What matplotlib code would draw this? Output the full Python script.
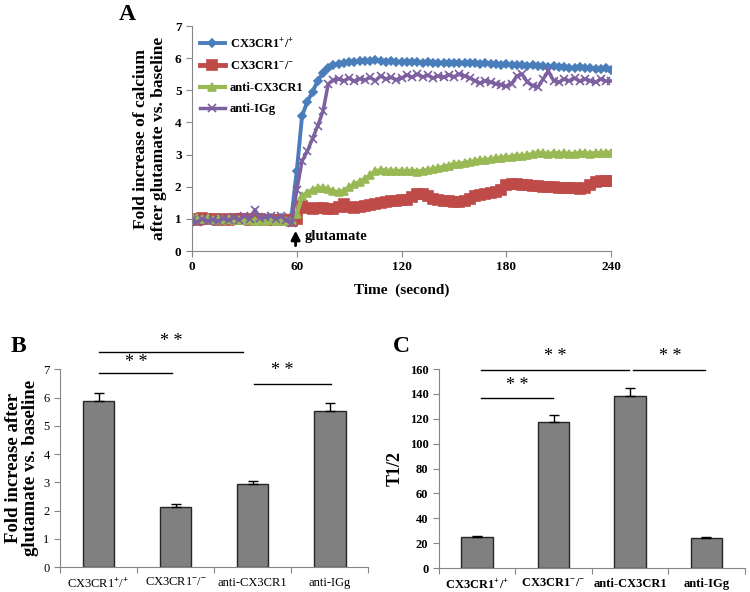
import matplotlib
matplotlib.use("Agg")
import matplotlib.pyplot as plt
import numpy as np

plt.rcParams['font.family'] = ['Liberation Serif', 'DejaVu Serif']
plt.rcParams['mathtext.fontset'] = 'custom'
plt.rcParams['mathtext.rm'] = 'Liberation Serif:bold'
plt.rcParams['mathtext.bf'] = 'Liberation Serif:bold'

# ---- panel A: time course (sampled every 3 s) ----
time = np.arange(0, 241, 3)

wt = [0.97, 0.95, 0.93, 0.96, 0.94, 0.97, 0.95, 0.98, 0.96, 0.99,
      0.97, 1.00, 0.98, 1.01, 0.99, 1.02, 1.00, 1.03, 1.04, 1.10,
      2.50, 4.20, 4.65, 4.95, 5.30, 5.55, 5.70, 5.78, 5.83, 5.86,
      5.87, 5.88, 5.90, 5.91, 5.92, 5.93, 5.90, 5.89, 5.90, 5.88,
      5.89, 5.88, 5.87, 5.88, 5.86, 5.87, 5.85, 5.86, 5.84, 5.85,
      5.86, 5.84, 5.85, 5.84, 5.86, 5.83, 5.84, 5.82, 5.83, 5.80,
      5.81, 5.79, 5.80, 5.78, 5.77, 5.78, 5.76, 5.75, 5.74, 5.76,
      5.73, 5.72, 5.71, 5.70, 5.72, 5.68, 5.69, 5.67, 5.66, 5.68,
      5.62]

ko = [1.00, 0.98, 1.02, 0.99, 1.01, 0.97, 1.00, 0.98, 1.01, 0.99,
      1.00, 0.98, 1.01, 0.99, 0.97, 0.98, 0.96, 0.97, 0.95, 0.94,
      1.00, 1.40, 1.35, 1.30, 1.33, 1.35, 1.30, 1.32, 1.36, 1.45,
      1.38, 1.35, 1.37, 1.40, 1.42, 1.45, 1.48, 1.52, 1.55, 1.56,
      1.58, 1.60, 1.68, 1.76, 1.78, 1.72, 1.62, 1.58, 1.57, 1.56,
      1.53, 1.52, 1.55, 1.62, 1.70, 1.75, 1.78, 1.82, 1.85, 1.90,
      2.05, 2.08, 2.07, 2.06, 2.04, 2.03, 2.02, 2.00, 2.00, 1.98,
      1.97, 1.96, 1.97, 1.95, 1.94, 1.96, 2.05, 2.15, 2.17, 2.18,
      2.19]

anti_cx = [1.05, 1.03, 1.00, 1.02, 0.98, 1.00, 0.97, 0.99, 0.96, 0.98,
           0.95, 0.97, 0.94, 0.96, 0.93, 0.95, 0.92, 0.94, 0.93, 0.95,
           1.15, 1.70, 1.82, 1.90, 1.95, 1.96, 1.92, 1.86, 1.83, 1.88,
           1.98, 2.08, 2.15, 2.25, 2.35, 2.48, 2.52, 2.50, 2.50, 2.49,
           2.50, 2.48, 2.50, 2.47, 2.50, 2.52, 2.55, 2.58, 2.62, 2.66,
           2.70, 2.72, 2.74, 2.77, 2.80, 2.82, 2.84, 2.86, 2.88, 2.90,
           2.92, 2.93, 2.97, 2.95, 2.98, 3.02, 3.05, 3.04, 3.02, 3.05,
           3.03, 3.04, 3.02, 3.03, 3.05, 3.04, 3.03, 3.05, 3.04, 3.06,
           3.06]

anti_igg = [0.95, 0.90, 1.00, 0.93, 0.98, 0.92, 1.02, 0.95, 1.05, 0.97,
            1.10, 1.00, 1.28, 1.02, 1.05, 1.10, 1.00, 1.08, 0.95, 0.88,
            1.90, 2.80, 3.10, 3.50, 3.90, 4.35, 5.20, 5.32, 5.35, 5.30,
            5.38, 5.28, 5.36, 5.32, 5.40, 5.30, 5.45, 5.35, 5.40, 5.33,
            5.38, 5.48, 5.40, 5.50, 5.42, 5.47, 5.38, 5.45, 5.40, 5.48,
            5.42, 5.50, 5.45, 5.38, 5.30, 5.22, 5.30, 5.25, 5.20, 5.18,
            5.12, 5.20, 5.45, 5.50, 5.25, 5.15, 5.10, 5.35, 5.60, 5.30,
            5.25, 5.35, 5.30, 5.38, 5.28, 5.35, 5.30, 5.25, 5.35, 5.28,
            5.30]

# ---- panels B and C ----
groups = [r'CX3CR1$^{+}$/$^{+}$', r'CX3CR1$^{-}$/$^{-}$', 'anti-CX3CR1', 'anti-IGg']
fold = [5.87, 2.13, 2.93, 5.54]
fold_err = [0.31, 0.11, 0.13, 0.28]
t_half = [25.0, 117.3, 138.4, 24.2]
t_half_err = [0.8, 5.4, 6.2, 0.8]

gray = '#868686'

fig = plt.figure(figsize=(7.5, 5.92), dpi=100)

# Panel A
axA = fig.add_axes([0.256, 0.576, 0.559, 0.380])
series = [
    (wt, '#4A7EBB', 'D', 4.5, 2.8, groups[0]),
    (ko, '#BE4B48', 's', 6.5, 3.5, groups[1]),
    (anti_cx, '#98B954', '^', 6.0, 3.0, groups[2]),
    (anti_igg, '#7D60A0', 'x', 6.0, 2.5, groups[3]),
]
for vals, col, mk, ms, lw, lab in series:
    axA.plot(time, vals, color=col, marker=mk, markersize=ms, lw=lw,
             markeredgewidth=1.2, label=lab)
axA.set_xlim(0, 240)
axA.set_ylim(0, 7)
axA.set_xticks([0, 60, 120, 180, 240])
axA.set_yticks(range(0, 8))
for s in ['top', 'right']:
    axA.spines[s].set_visible(False)
for s in ['left', 'bottom']:
    axA.spines[s].set_color(gray)
axA.tick_params(colors=gray, labelcolor='black', labelsize=9.5, length=4)
for lbl in axA.get_xticklabels() + axA.get_yticklabels():
    lbl.set_fontweight('bold')
axA.set_xlabel('Time  (second)', fontsize=11, fontweight='bold', labelpad=7)
axA.set_ylabel('Fold increase of calcium\nafter glutamate vs. baseline',
               fontsize=12.5, fontweight='bold', labelpad=6, linespacing=1.1)
leg = axA.legend(loc='upper left', frameon=False, prop={'weight': 'bold', 'size': 9},
                 handlelength=2.0, handletextpad=0.4, labelspacing=0.75,
                 borderaxespad=0.2, bbox_to_anchor=(0.0, 0.985))
axA.annotate('', xy=(59.3, 0.72), xytext=(59.3, 0.08),
             arrowprops=dict(arrowstyle='-|>', color='black', lw=2.0, mutation_scale=13))
axA.text(64.5, 0.46, 'glutamate', fontsize=10.5, fontweight='bold', va='center')
fig.text(0.158, 0.975, 'A', fontsize=17, fontweight='bold', va='center')

# helper for Excel-like bar panels
def bar_panel(ax, vals, errs, ylim, yticks, bold):
    x = np.arange(len(vals))
    ax.bar(x, vals, width=0.41, color='#808080', edgecolor='#262626', lw=1.0, zorder=2)
    ax.errorbar(x, vals, yerr=[[0] * len(errs), errs], fmt='none', ecolor='black',
                elinewidth=1.0, capsize=3.5, capthick=1.0, zorder=3)
    ax.set_xlim(-0.5, 3.5)
    ax.set_ylim(*ylim)
    ax.set_yticks(yticks)
    ax.set_xticks(np.arange(-0.5, 4.0, 1.0))
    ax.set_xticklabels([])
    ax.set_xticks(x, minor=True)
    ax.set_xticklabels(groups, minor=True)
    ax.tick_params(axis='x', which='minor', length=0, pad=7)
    ax.tick_params(colors=gray, labelcolor='black', labelsize=9, length=4)
    ax.tick_params(axis='x', which='minor', labelsize=9)
    for s in ['top', 'right']:
        ax.spines[s].set_visible(False)
    for s in ['left', 'bottom']:
        ax.spines[s].set_color(gray)
    if bold:
        for lbl in ax.get_yticklabels() + ax.get_xticklabels(minor=True):
            lbl.set_fontweight('bold')

def sig(ax, x0, x1, y, xs, ys):
    ax.plot([x0, x1], [y, y], color='black', lw=1.0, clip_on=False)
    ax.text(xs, ys, '* *', fontsize=13, ha='center', va='center', clip_on=False)

# Panel B
axB = fig.add_axes([0.080, 0.042, 0.411, 0.334])
bar_panel(axB, fold, fold_err, (0, 7), range(0, 8), bold=False)
axB.set_ylabel('Fold increase after\nglutamate vs. baseline', fontsize=13.5,
               fontweight='bold', labelpad=3, linespacing=1.0)
sig(axB, 0.0, 0.95, 6.87, 0.49, 7.25)
sig(axB, 0.0, 1.87, 7.60, 0.95, 8.0)
sig(axB, 2.02, 3.02, 6.49, 2.39, 6.95)
fig.text(0.014, 0.415, 'B', fontsize=17, fontweight='bold', va='center')

# Panel C
axC = fig.add_axes([0.585, 0.0405, 0.408, 0.336])
bar_panel(axC, t_half, t_half_err, (0, 160), range(0, 161, 20), bold=True)
axC.set_ylabel('T1/2', fontsize=13, fontweight='bold', labelpad=4)
sig(axC, 0.05, 0.99, 136.6, 0.52, 147)
sig(axC, 0.05, 1.99, 159.4, 1.02, 170)
sig(axC, 2.04, 2.98, 159.4, 2.52, 170)
fig.text(0.524, 0.415, 'C', fontsize=17, fontweight='bold', va='center')

fig.savefig('out.png', dpi=100)
